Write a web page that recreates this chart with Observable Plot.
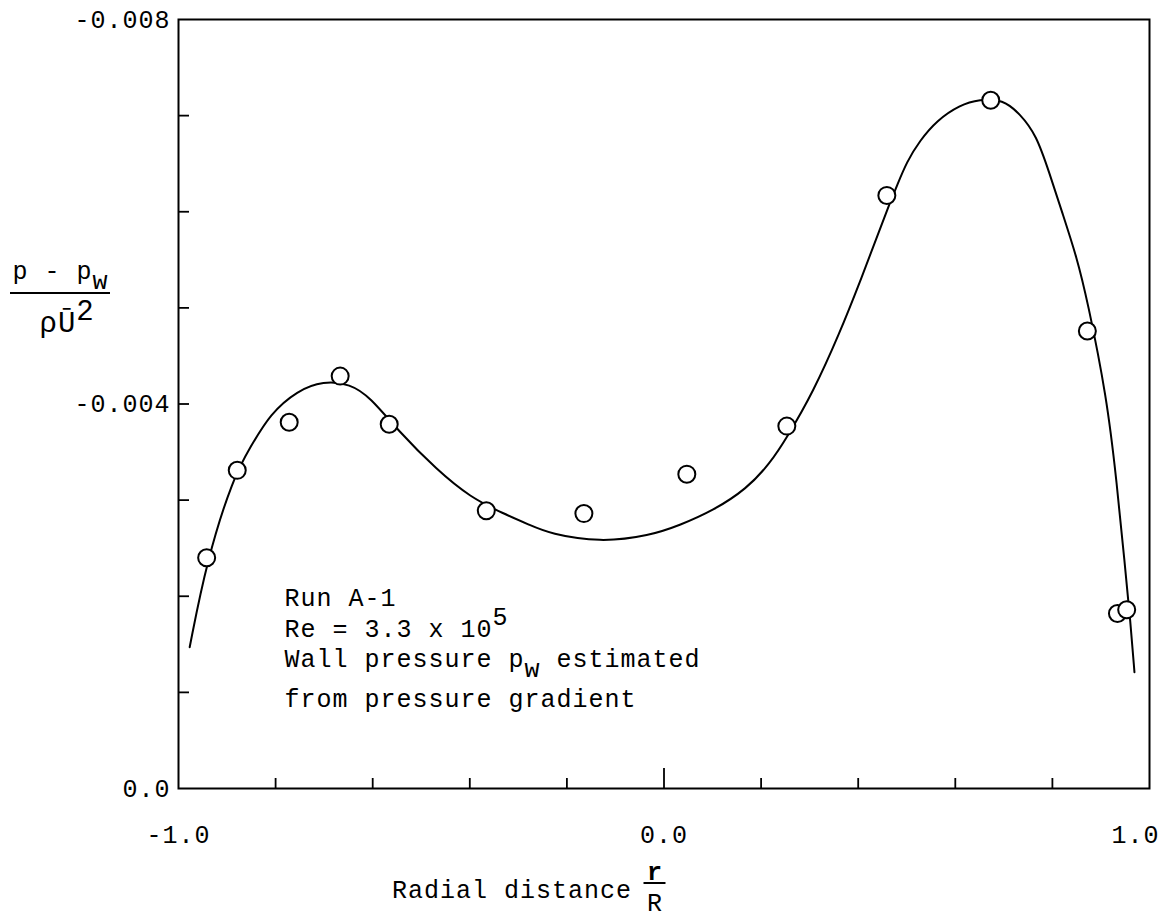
<!DOCTYPE html>
<html>
<head>
<meta charset="utf-8">
<script src="https://cdn.jsdelivr.net/npm/d3@7"></script>
<script src="https://cdn.jsdelivr.net/npm/@observablehq/plot@0.6"></script>
<style>
  html, body { margin: 0; padding: 0; background: #fff; }
  #chart svg { display: block; }
</style>
</head>
<body>
<div id="chart"></div>
<script>
// ---- data ----
const pointX = [-0.942, -0.879, -0.772, -0.667, -0.566, -0.366, -0.165, 0.047, 0.253, 0.459, 0.673, 0.872, 0.934, 0.953];
const pointY = [-0.00240, -0.00331, -0.00381, -0.00429, -0.00379, -0.00289, -0.00286, -0.00327, -0.00377, -0.00617, -0.00716, -0.00476, -0.00182, -0.00186];

const curveX = [-0.977, -0.942, -0.887, -0.852, -0.811, -0.755, -0.702, -0.646, -0.605, -0.549, -0.467, -0.399, -0.331, -0.276, -0.235, -0.132, -0.029, 0.033, 0.101, 0.171, 0.218, 0.253, 0.307, 0.362, 0.403, 0.444, 0.465, 0.479, 0.500, 0.527, 0.562, 0.609, 0.650, 0.698, 0.733, 0.767, 0.794, 0.821, 0.850, 0.872, 0.912, 0.932, 0.949, 0.961, 0.969];
const curveY = [-0.00147, -0.00237, -0.00324, -0.00355, -0.00390, -0.00414, -0.00424, -0.00421, -0.00407, -0.00373, -0.00331, -0.00303, -0.00286, -0.00274, -0.00265, -0.00256, -0.00263, -0.00274, -0.00289, -0.00312, -0.00338, -0.00365, -0.00412, -0.00474, -0.00526, -0.00581, -0.00609, -0.00626, -0.00652, -0.00674, -0.00695, -0.00711, -0.00717, -0.00717, -0.00702, -0.00680, -0.00640, -0.00598, -0.00553, -0.00508, -0.00407, -0.00321, -0.00234, -0.00172, -0.00121];

const xTickValues = [-1, 0, 1];
const xTickLabels = ["-1.0", "0.0", "1.0"];
const xMinorTicks = [-0.8, -0.6, -0.4, -0.2, 0.2, 0.4, 0.6, 0.8];
const xMajorTicks = [0];

const yTickValues = [0, -0.004, -0.008];
const yTickLabels = ["0.0", "-0.004", "-0.008"];
const yMinorTicks = [-0.001, -0.002, -0.003, -0.004, -0.005, -0.006, -0.007];

const annotationLines = ["Run A-1", "Re = 3.3 x 10^{5}", "Wall pressure p_{w} estimated", "from pressure gradient"];
const yLabelNumerator = "p - p_{w}";
const yLabelDenominator = "ρŪ^{2}";
const xLabelText = "Radial distance";
const xLabelNumerator = "r";
const xLabelDenominator = "R";

// ---- build tables ----
const points = pointX.map((x, i) => ({x, y: pointY[i]}));
const curve = curveX.map((x, i) => ({x, y: curveY[i]}));

const fmtX = d => xTickLabels[xTickValues.indexOf(d)];
const fmtY = d => yTickLabels[yTickValues.indexOf(d)];

const FONT = '"Liberation Mono", "DejaVu Sans Mono", monospace';
const M = {left: 178, right: 14, top: 19, bottom: 134};
const W = 1163, H = 922;

const annotDy = [578, 609, 639, 679];

const chart = Plot.plot({
  width: W,
  height: H,
  marginLeft: M.left,
  marginRight: M.right,
  marginTop: M.top,
  marginBottom: M.bottom,
  x: {domain: [-1, 1]},
  y: {domain: [0, -0.008]},
  style: {fontFamily: FONT, fontSize: "25px", background: "white", color: "black", letterSpacing: "1px"},
  marks: [
    // inward ticks
    Plot.axisY({ticks: yMinorTicks, tickSize: -11, fill: "none", strokeWidth: 1.8, label: null}),
    Plot.axisX({ticks: xMinorTicks, tickSize: -10, fill: "none", strokeWidth: 1.8, label: null}),
    Plot.axisX({ticks: xMajorTicks, tickSize: -20, fill: "none", strokeWidth: 1.8, label: null}),
    // tick labels
    Plot.axisY({ticks: yTickValues, tickSize: 0, tickPadding: 8, tickFormat: fmtY, stroke: "none", label: null}),
    Plot.axisX({ticks: xTickValues.slice(0, 2), tickSize: 0, tickPadding: 37, tickFormat: fmtX, stroke: "none", label: null}),
    Plot.axisX({ticks: xTickValues.slice(2), tickSize: 0, tickPadding: 37, tickFormat: fmtX, textAnchor: "end", dx: 10, stroke: "none", label: null}),
    Plot.frame({stroke: "black", strokeWidth: 2}),
    // fitted curve and data
    Plot.line(curve, {x: "x", y: "y", curve: "basis", stroke: "black", strokeWidth: 2}),
    Plot.dot(points, {x: "x", y: "y", r: 8.5, fill: "white", stroke: "black", strokeWidth: 2}),
    // annotation block
    ...annotationLines.map((t, i) => Plot.text([t], {frameAnchor: "top-left", dx: 106, dy: annotDy[i], textAnchor: "start", lineAnchor: "middle", fill: "black"})),
    // y axis label (fraction)
    Plot.text([yLabelNumerator], {frameAnchor: "top-left", dx: -166, dy: 251, textAnchor: "start", lineAnchor: "middle", fill: "black"}),
    Plot.text([yLabelDenominator], {frameAnchor: "top-left", dx: -139, dy: 303, textAnchor: "start", lineAnchor: "middle", fill: "black", fontSize: 29}),
    // x axis label
    Plot.text([xLabelText], {frameAnchor: "bottom", dx: -32, dy: 101, textAnchor: "end", lineAnchor: "middle", fill: "black"}),
    Plot.text([xLabelNumerator], {frameAnchor: "bottom", dx: -9, dy: 83, textAnchor: "middle", lineAnchor: "middle", fill: "black", fontWeight: "bold"}),
    Plot.text([xLabelDenominator], {frameAnchor: "bottom", dx: -9, dy: 114, textAnchor: "middle", lineAnchor: "middle", fill: "black"})
  ]
});

// turn ^{..} and _{..} markers into raised / lowered tspans
function richText(svg) {
  svg.querySelectorAll("text").forEach(el => {
    const targets = el.querySelector("tspan") ? Array.from(el.querySelectorAll("tspan")) : [el];
    for (const t of targets) {
      const s = t.textContent;
      if (!/[\^_]\{/.test(s)) continue;
      t.textContent = "";
      const re = /([\^_])\{([^}]*)\}/g;
      let last = 0, m, pending = 0;
      const add = (txt, dy) => {
        const sp = document.createElementNS("http://www.w3.org/2000/svg", "tspan");
        if (dy) sp.setAttribute("dy", dy);
        sp.textContent = txt;
        t.appendChild(sp);
      };
      while ((m = re.exec(s))) {
        if (m.index > last) { add(s.slice(last, m.index), pending); pending = 0; }
        const shift = m[1] === "^" ? -12 : 10;
        add(m[2], shift + pending);
        pending = -shift;
        last = re.lastIndex;
      }
      if (last < s.length) add(s.slice(last), pending);
    }
  });
}
richText(chart);

// fraction bars of the two axis labels (typographic rules, placed relative to the frame)
const frameLeft = M.left;
const frameTop = M.top;
const frameCx = M.left + (W - M.left - M.right) / 2;
const frameBottom = H - M.bottom;
const bars = [
  {x1: frameLeft - 168, x2: frameLeft - 68, y: frameTop + 274},
  {x1: frameCx - 20, x2: frameCx + 2, y: frameBottom + 95}
];
d3.select(chart).append("g").attr("aria-label", "fraction bars")
  .selectAll("line").data(bars).join("line")
  .attr("x1", d => d.x1).attr("x2", d => d.x2)
  .attr("y1", d => d.y).attr("y2", d => d.y)
  .attr("stroke", "black").attr("stroke-width", 2);

document.getElementById("chart").appendChild(chart);
</script>
</body>
</html>
